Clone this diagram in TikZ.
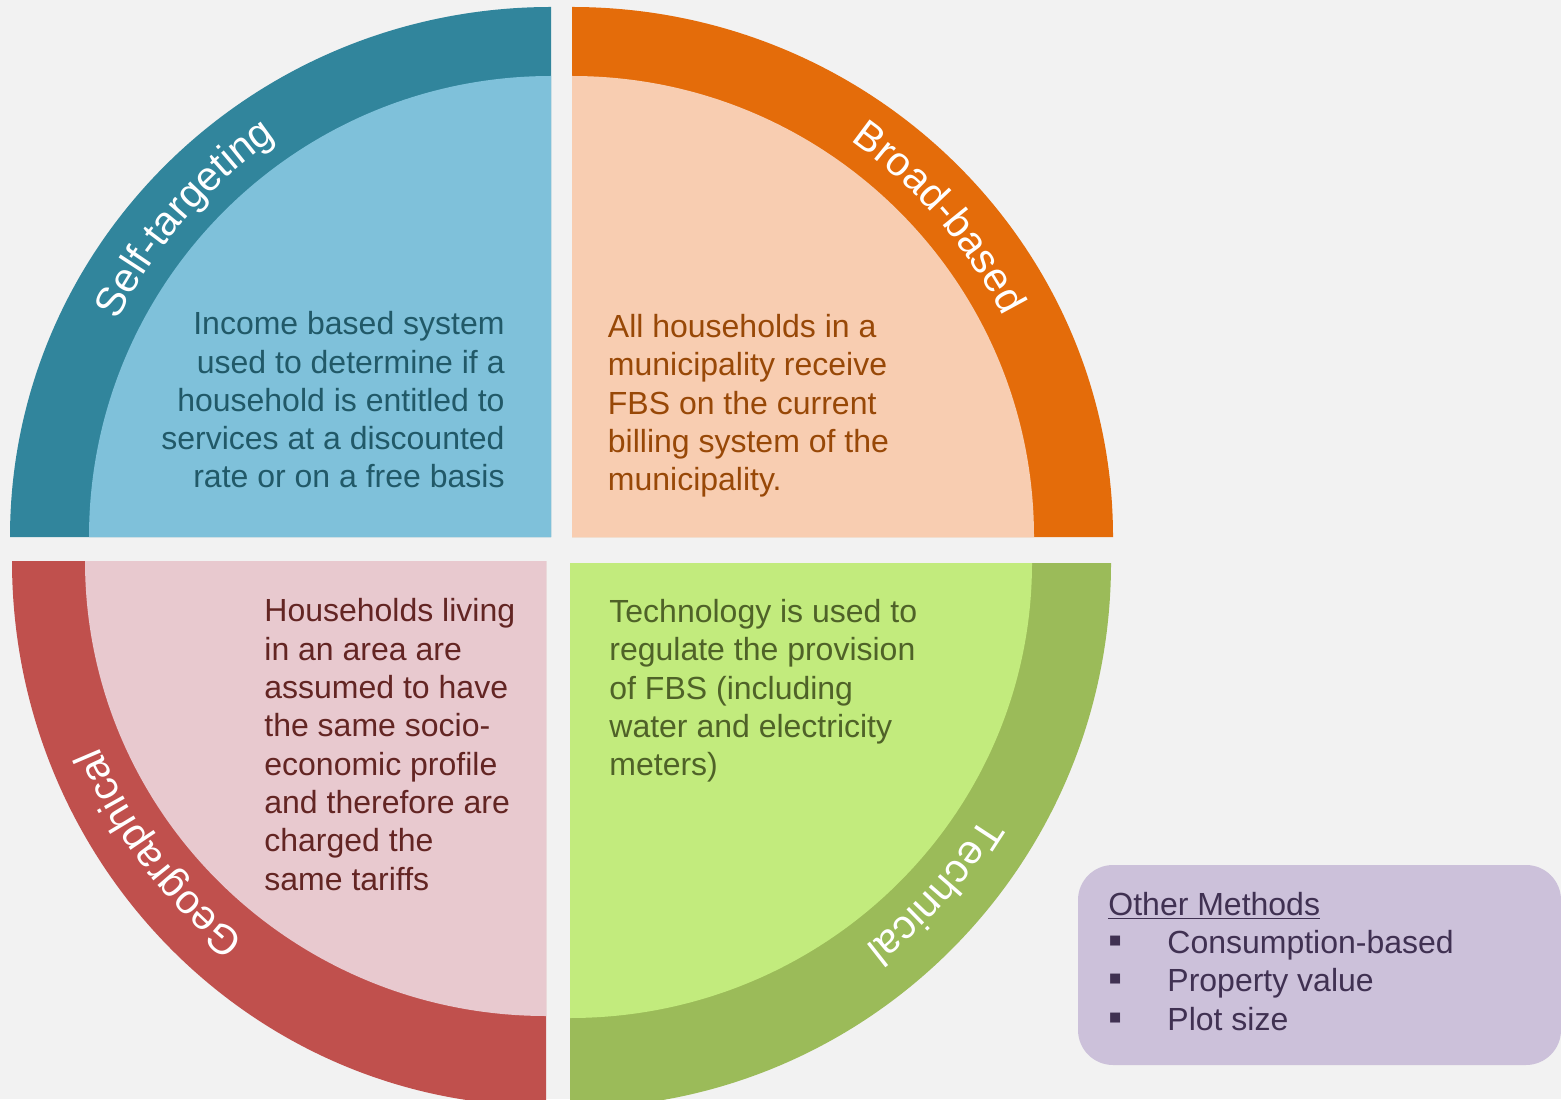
\documentclass[tikz,border=0pt]{standalone}
\usepackage{fontspec}
\setmainfont{Liberation Sans}
\usetikzlibrary{decorations.text}
\definecolor{pagebg}{HTML}{F2F2F2}
\definecolor{selfring}{HTML}{31859C}
\definecolor{selfdisk}{HTML}{7FC1DA}
\definecolor{selftext}{HTML}{215968}
\definecolor{broadring}{HTML}{E46C0A}
\definecolor{broaddisk}{HTML}{F8CDB1}
\definecolor{broadtext}{HTML}{984807}
\definecolor{georing}{HTML}{C0504D}
\definecolor{geodisk}{HTML}{E8C9CF}
\definecolor{geotext}{HTML}{632523}
\definecolor{techring}{HTML}{9BBB59}
\definecolor{techdisk}{HTML}{C2EB7D}
\definecolor{techtext}{HTML}{4F6228}
\definecolor{otherfill}{HTML}{CCC1DA}
\definecolor{othertext}{HTML}{403152}
\newcommand\ringfont{\fontsize{20.5}{24}\selectfont\color{white}}
\newcommand\bulletbox{\makebox[29.5pt][l]{\fontsize{20}{20}\selectfont▪}}
\tikzset{
  bodytext/.style={inner sep=0pt, font=\fontsize{16}{19.15}\selectfont},
  ringlabel/.style={decorate, decoration={text along path, text align=center, text={|\ringfont|#1}}}
}
\begin{document}
\begin{tikzpicture}[x=0.5pt,y=0.5pt]
\pgfmathsetmacro{\outrx}{541}
\pgfmathsetmacro{\outry}{530}
\pgfmathsetmacro{\outrybot}{545}
\pgfmathsetmacro{\inrx}{462}
\pgfmathsetmacro{\inry}{461}
\pgfmathsetmacro{\inrybot}{455}
\pgfmathsetmacro{\labelr}{484}
\useasboundingbox (0,0) rectangle (1561,1099);
\fill[pagebg] (0,0) rectangle (1561,1099);
\coordinate (tl) at (551,562);
\coordinate (tr) at (572,562);
\coordinate (bl) at (546,538);
\coordinate (br) at (570,536);
\fill[selfring] (tl) -- ++(-\outrx,0) arc[start angle=180, end angle=90, x radius=\outrx, y radius=\outry] -- cycle;
\fill[selfdisk] (tl) -- ++(-\inrx,0) arc[start angle=180, end angle=90, x radius=\inrx, y radius=\inry] -- cycle;
\fill[broadring] (tr) -- ++(\outrx,0) arc[start angle=0, end angle=90, x radius=\outrx, y radius=\outry] -- cycle;
\fill[broaddisk] (tr) -- ++(\inrx,0) arc[start angle=0, end angle=90, x radius=\inrx, y radius=\inry] -- cycle;
\fill[georing] (bl) -- ++(-534,0) arc[start angle=180, end angle=270, x radius=534, y radius=\outrybot] -- cycle;
\fill[geodisk] (bl) -- ++(-461,0) arc[start angle=180, end angle=270, x radius=461, y radius=\inrybot] -- cycle;
\fill[techring] (br) -- ++(\outrx,0) arc[start angle=0, end angle=-90, x radius=\outrx, y radius=\outrybot] -- cycle;
\fill[techdisk] (br) -- ++(\inrx,0) arc[start angle=0, end angle=-90, x radius=\inrx, y radius=\inrybot] -- cycle;
\path[ringlabel=Self-targeting] (tl) ++(165:\labelr) arc[start angle=165, end angle=113, radius=\labelr];
\path[ringlabel=Broad-based] (tr) ++(67:\labelr) arc[start angle=67, end angle=15, radius=\labelr];
\path[ringlabel=Geographical] (bl) ++(243:\labelr) arc[start angle=243, end angle=191, radius=\labelr];
\path[ringlabel=Technical] (br) ++(-16:\labelr) arc[start angle=-16, end angle=-68, radius=\labelr];
\node[bodytext, text=selftext, align=right, anchor=north east] (selfnote) at (505,787.8) {Income based system\\used to determine if a\\household is entitled to\\services at a discounted\\rate or on a free basis};
\node[bodytext, text=broadtext, align=left, anchor=north west] (broadnote) at (607.5,785) {All households in a\\municipality receive\\FBS on the current\\billing system of the\\municipality.};
\node[bodytext, text=geotext, align=left, anchor=north west] (geonote) at (264,500.6) {Households living\\in an area are\\assumed to have\\the same socio-\\economic profile\\and therefore are\\charged the\\same tariffs};
\node[bodytext, text=techtext, align=left, anchor=north west] (technote) at (609,500) {Technology is used to\\regulate the provision\\of FBS (including\\water and electricity\\meters)};
\fill[otherfill, rounded corners=17.5pt] (1078,234) rectangle (1561,34);
\node[bodytext, text=othertext, align=left, anchor=north west] (othernote) at (1108,207.4) {\underline{Other Methods}\\\bulletbox Consumption-based\\\bulletbox Property value\\\bulletbox Plot size};
\end{tikzpicture}
\end{document}
